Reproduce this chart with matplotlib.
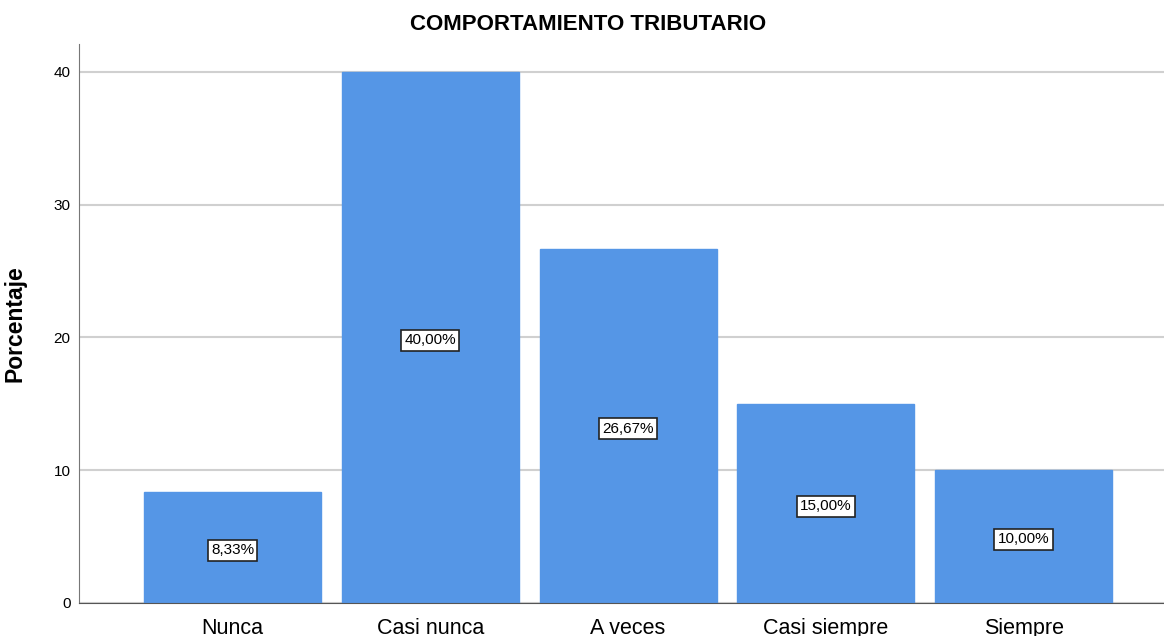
import matplotlib
matplotlib.use("Agg")
import matplotlib.pyplot as plt

categorias = ["Nunca", "Casi nunca", "A veces", "Casi siempre", "Siempre"]
porcentajes = [8.33, 40.00, 26.67, 15.00, 10.00]
etiquetas = ["8,33%", "40,00%", "26,67%", "15,00%", "10,00%"]

plt.rcParams['font.family'] = ['Liberation Sans', 'DejaVu Sans']

fig = plt.figure(figsize=(11.64, 6.36), dpi=100)
ax = fig.add_axes([0.0679, 0.0519, 0.9321, 0.8789])

x = list(range(len(categorias)))
ax.bar(x, porcentajes, width=0.895, color="#5596e6", edgecolor="#5596e6", zorder=2)

# etiquetas de porcentaje en caja blanca, a media altura de cada barra
for xi, v, t in zip(x, porcentajes, etiquetas):
    ax.annotate(t, (xi, v / 2), xytext=(0, -2), textcoords="offset points",
                ha="center", va="center", fontsize=11, zorder=3,
                bbox=dict(boxstyle="square,pad=0.22", fc="white", ec="#222222", lw=1.2))

ax.set_xlim(-0.776, 4.71)
ax.set_ylim(0, 42.1)
ax.set_yticks([0, 10, 20, 30, 40])
ax.set_xticks(x)
ax.set_xticklabels(categorias, fontsize=15.5)
ax.tick_params(axis="y", labelsize=11, length=0, pad=6)
ax.tick_params(axis="x", length=0, pad=11)
ax.yaxis.grid(True, color="#d0d0d0", lw=1.5, zorder=1)
ax.set_axisbelow(True)

for s in ["top", "right"]:
    ax.spines[s].set_visible(False)
ax.spines["left"].set_color("#777777")
ax.spines["bottom"].set_color("#555555")

ax.set_ylabel("Porcentaje", fontsize=16.5, fontweight="bold")
ax.yaxis.set_label_coords(-0.048, 0.5)
fig.text(0.505, 0.962, "COMPORTAMIENTO TRIBUTARIO", ha="center", va="center",
         fontsize=16, fontweight="bold")

fig.savefig("out.png", dpi=100)
